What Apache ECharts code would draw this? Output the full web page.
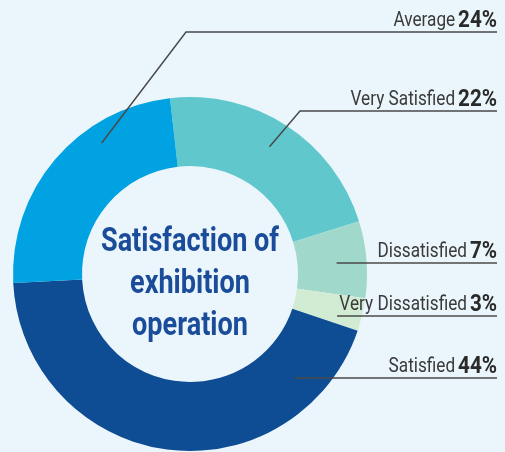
<!DOCTYPE html>
<html>
<head>
<meta charset="utf-8">
<script src="https://cdn.jsdelivr.net/npm/echarts@6/dist/echarts.min.js"></script>
<style>
  html, body { margin: 0; padding: 0; background: #eaf6fc; }
  #drew { width: 505px; height: 452px; }
</style>
</head>
<body>
<div id="drew"></div>
<script>
var categories = ['Very Satisfied', 'Dissatisfied', 'Very Dissatisfied', 'Satisfied', 'Average'];
var shares = [22, 7, 3, 44, 24];
var colors = ['#60c8cc', '#a0d8cc', '#d2ecd4', '#0e4c94', '#00a2e1'];

var font = 'Roboto, sans-serif';
var cx = 190, cy = 274;
var lineEnd = 497;
// guide lines: row y of the underline, start point (angle clockwise from top, radius), bend x
var guides = {
    'Average': { y: 32, a: 326, r: 158, bend: 186 },
    'Very Satisfied': { y: 111, a: 32, r: 150, bend: 300 },
    'Dissatisfied': { y: 263, a: 86, r: 147 },
    'Very Dissatisfied': { y: 316, a: 106, r: 153 },
    'Satisfied': { y: 378, a: 135, r: 148 }
};

var labelGraphics = [];
categories.forEach(function (c, i) {
    var g = guides[c];
    var rad = g.a * Math.PI / 180;
    var sx = cx + g.r * Math.sin(rad);
    var sy = cy - g.r * Math.cos(rad);
    var pts = g.bend == null
        ? [[sx, g.y], [lineEnd, g.y]]
        : [[sx, sy], [g.bend, g.y], [lineEnd, g.y]];
    labelGraphics.push({
        type: 'polyline',
        z: 10,
        shape: { points: pts },
        style: { stroke: '#4a4a4a', lineWidth: 1.5, fill: null }
    });
    labelGraphics.push({
        type: 'text',
        z: 10,
        x: lineEnd,
        y: g.y + 1,
        scaleX: 0.86,
        style: {
            text: '{n|' + c + '} {v|' + shares[i] + '%}',
            align: 'right',
            verticalAlign: 'bottom',
            rich: {
                n: { fontFamily: font, fontSize: 20, fill: '#3a3a3a' },
                v: { fontFamily: font, fontSize: 24, fontWeight: 'bold', fill: '#2a2a2a' }
            }
        }
    });
});

var myChart = echarts.init(document.getElementById('drew'));
var option = {
    backgroundColor: '#eaf6fc',
    animation: false,
    color: colors,
    graphic: [{
        type: 'text',
        x: cx,
        y: 285,
        scaleX: 0.82,
        z: 10,
        style: {
            text: 'Satisfaction of\nexhibition\noperation',
            align: 'center',
            verticalAlign: 'middle',
            fill: '#1a4c9a',
            font: 'bold 33px ' + font,
            lineHeight: 42
        }
    }].concat(labelGraphics),
    series: [{
        type: 'pie',
        center: [cx, cy],
        radius: [108, 177],
        startAngle: 96.5,
        clockwise: true,
        silent: true,
        itemStyle: { borderWidth: 0 },
        label: { show: false },
        labelLine: { show: false },
        data: categories.map(function (c, i) {
            return { name: c, value: shares[i] };
        })
    }]
};
myChart.setOption(option);
</script>
</body>
</html>
